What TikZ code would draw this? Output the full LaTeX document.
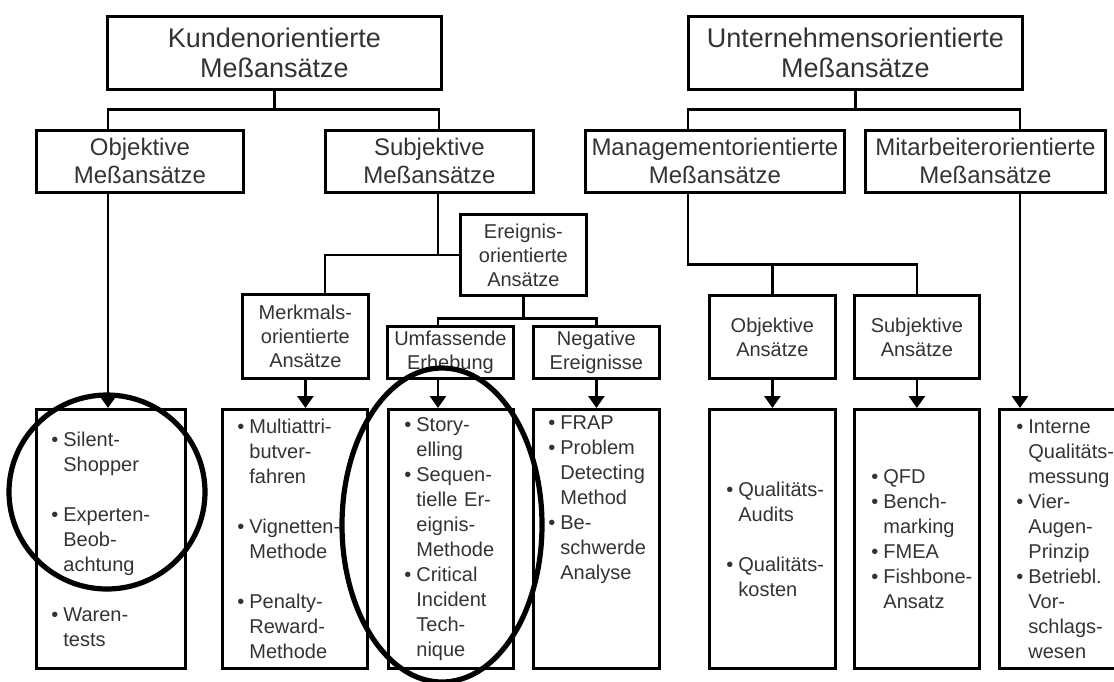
\documentclass[tikz,border=0pt]{standalone}
\usepackage{fontspec}
\setmainfont{Liberation Sans}
\usetikzlibrary{positioning,arrows.meta,calc}

\newcommand{\bul}{\makebox[6pt][l]{\textbullet}}
\newcommand{\ind}{\makebox[6pt]{}}

\begin{document}
\begin{tikzpicture}[
		x=0.5pt, y=-0.5pt,
		every node/.style={text=black!80},
		head/.style={draw=black, line width=1.4pt, align=center, inner sep=0pt, anchor=north west},
		group/.style={head, font={\fontsize{13.5pt}{15pt}\selectfont}, minimum width=167pt, minimum height=36.5pt},
		family/.style={head, font={\fontsize{12pt}{14pt}\selectfont}, minimum height=31pt},
		branch/.style={head, font={\fontsize{10pt}{12pt}\selectfont}},
		leaf/.style={draw=black, line width=1.4pt, align=left, inner ysep=0pt, anchor=north west,
			minimum height=129.5pt,
			font={\fontsize{10pt}{12.5pt}\selectfont\hyphenpenalty10000\exhyphenpenalty10000}},
		conn/.style={line width=1.4pt},
		arr/.style={conn, -{Triangle[width=8pt,length=6pt]}},
		ring/.style={line width=2.6pt}
		]
		\useasboundingbox (0,0) rectangle (1114,681);
		\node[group] (kunden) at (106,15) {Kundenorientierte\\Meßansätze};
		\node[group] (untern) at (687,15) {Unternehmensorientierte\\Meßansätze};
		\node[family, minimum width=103.5pt] (objm) at (35,129) {Objektive\\Meßansätze};
		\node[family, minimum width=104pt] (subjm) at (324,129) {Subjektive\\Meßansätze};
		\node[family, minimum width=129.5pt] (mgmt) at (584,129) {Managementorientierte\\Meßansätze};
		\node[family, minimum width=120pt] (mitarb) at (864,129) {Mitarbeiterorientierte\\Meßansätze};
		\node[branch, minimum width=63pt, minimum height=40.5pt] (ereig) at (459,213)
		{Ereignis-\\orientierte\\Ansätze};
		\node[branch, minimum width=63pt, minimum height=42pt] (merkm) at (241,293)
		{Merkmals-\\orientierte\\Ansätze};
		\node[branch, minimum width=63pt, minimum height=26pt] (umfas) at (386,325) {Umfassende\\Erhebung};
		\node[branch, minimum width=63pt, minimum height=26pt] (negat) at (532,325) {Negative\\Ereignisse};
		\node[branch, minimum width=63pt, minimum height=41.5pt] (objan) at (708,294) {Objektive\\Ansätze};
		\node[branch, minimum width=62.5pt, minimum height=41.5pt] (subjan) at (853,294) {Subjektive\\Ansätze};
		\node[leaf, inner xsep=7.5pt, text width=59.5pt] (kobj) at (35,408)
		{\bul Silent-\\\ind Shopper\\[12.5pt]\bul Experten-\\\ind Beob-\\\ind achtung\\[12.5pt]\bul Waren-\\\ind tests};
		\node[leaf, inner xsep=7.5pt, text width=57.5pt] (kmerk) at (221,408)
		{\bul Multiattri-\\\ind butver-\\\ind fahren\\[12.5pt]\bul Vignetten-\\\ind Methode\\[12.5pt]\bul Penalty-\\\ind Reward-\\\ind Methode};
		\node[leaf, inner xsep=8pt, text width=46.5pt] (kumf) at (387,408)
		{\bul Story-\\\ind elling\\\bul Sequen-\\\ind tielle Er-\\\ind eignis-\\\ind Methode\\\bul Critical\\\ind Incident\\\ind Tech-\\\ind nique};
		\node[leaf, inner xsep=7.5pt, text width=48pt] (kneg) at (532,408)
		{\bul FRAP\\\bul Problem\\\ind Detecting\\\ind Method\\\bul Be-\\\ind schwerde\\\ind Analyse\\[25pt]\strut};
		\node[leaf, inner xsep=8.5pt, text width=46pt] (uobj) at (708,408)
		{\bul Qualitäts-\\\ind Audits\\[12.5pt]\bul Qualitäts-\\\ind kosten};
		\node[leaf, inner xsep=8.5pt, text width=45.5pt] (usubj) at (853,408)
		{\bul QFD\\\bul Bench-\\\ind marking\\\bul FMEA\\\bul Fishbone-\\\ind Ansatz};
		\node[leaf, inner xsep=8.5pt, text width=46pt] (umit) at (998,408)
		{\bul Interne\\\ind Qualitäts-\\\ind messung\\\bul Vier-\\\ind Augen-\\\ind Prinzip\\\bul Betriebl.\\\ind Vor-\\\ind schlags-\\\ind wesen};
		\draw[conn] (kunden.south) -- ++(0,19) -| ($(objm.north west)+(73,0)$);
		\draw[conn] (kunden.south) -- ++(0,19) -| ($(subjm.north west)+(115,0)$);
		\draw[conn] (untern.south) -- ++(0,19) -| ($(mgmt.north west)+(104,0)$);
		\draw[conn] (untern.south) -- ++(0,19) -| ($(mitarb.north west)+(156,0)$);
		\draw[arr] ($(objm.south west)+(73,0)$) -- ($(kobj.north west)+(73,0)$);
		\coordinate (sj) at ($(subjm.south west)+(114,0)$);
		\draw[conn] (sj) -- (sj |- ereig.west);
		\draw[conn] ($(merkm.north west)+(84,0)$) |- (ereig.west);
		\draw[conn] (ereig.south) -- ++(0,22) -| ($(umfas.north west)+(52,0)$);
		\draw[conn] (ereig.south) -- ++(0,22) -| (negat.north);
		\draw[arr] (merkm.south) -- (merkm.south |- kmerk.north);
		\coordinate (uf) at ($(umfas.south west)+(52,0)$);
		\draw[arr] (uf) -- (uf |- kumf.north);
		\draw[arr] (negat.south) -- (negat.south |- kneg.north);
		\coordinate (mg) at ($(mgmt.south west)+(104,0)$);
		\coordinate (mgbar) at ($(mg)+(0,71)$);
		\draw[conn] (mg) -- (mgbar) -| (subjan.north);
		\draw[conn] (objan.north) -- (objan.north |- mgbar);
		\draw[arr] (objan.south) -- (objan.south |- uobj.north);
		\draw[arr] (subjan.south) -- (subjan.south |- usubj.north);
		\coordinate (mt) at ($(mitarb.south west)+(156,0)$);
		\draw[arr] (mt) -- (mt |- umit.north);
		\draw[ring] (107,492) ellipse [x radius=49pt, y radius=48.5pt];
		\draw[ring] (442,525) ellipse [x radius=50pt, y radius=78.5pt];
	\end{tikzpicture}
\end{document}
